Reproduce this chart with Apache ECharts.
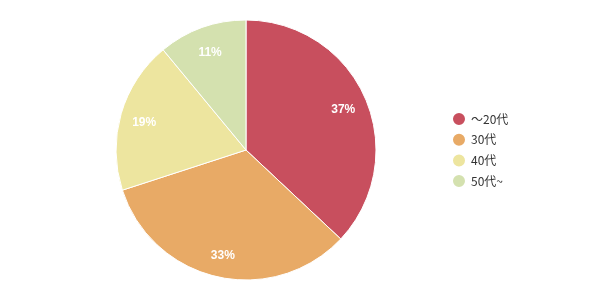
<!DOCTYPE html>
<html><head><meta charset="utf-8">
<script src="https://cdn.jsdelivr.net/npm/echarts@6/dist/echarts.min.js"></script>
<style>html,body{margin:0;padding:0;background:#fff}#c{width:600px;height:300px}</style>
</head><body><div id="c"></div>
<script>
const categories = ['～20代', '30代', '40代', '50代~'];
const values = [37, 33, 19, 11];
const colors = ['#C84F5E', '#E8AA66', '#EDE59F', '#D4E1AF'];

const data = categories.map((n, i) => ({ name: n, value: values[i], itemStyle: { color: colors[i] } }));
const chart = echarts.init(document.getElementById('c'));
chart.setOption({
  animation: false,
  legend: {
    orient: 'vertical', left: 446, top: 106,
    icon: 'circle', itemWidth: 14, itemHeight: 14, itemGap: 4.7,
    textStyle: { fontSize: 12, color: '#333', fontFamily: 'Noto Sans CJK JP' },
    data: categories
  },
  series: [
    {
      type: 'pie', center: [246, 150], radius: [0, 130], startAngle: 90, clockwise: true,
      itemStyle: { borderColor: '#fff', borderWidth: 1 },
      label: { show: false }, labelLine: { show: false },
      data: data
    },
    {
      type: 'pie', center: [246, 152], radius: [76, 130], startAngle: 90, clockwise: true, silent: true,
      itemStyle: { color: 'rgba(0,0,0,0)' },
      label: { show: true, position: 'inside', formatter: '{d}%', color: '#fff', fontWeight: 'bold', fontSize: 12, fontFamily: 'Arial' },
      labelLine: { show: false },
      data: categories.map((n, i) => ({ name: n + ' ', value: values[i] }))
    }
  ]
});
</script></body></html>
